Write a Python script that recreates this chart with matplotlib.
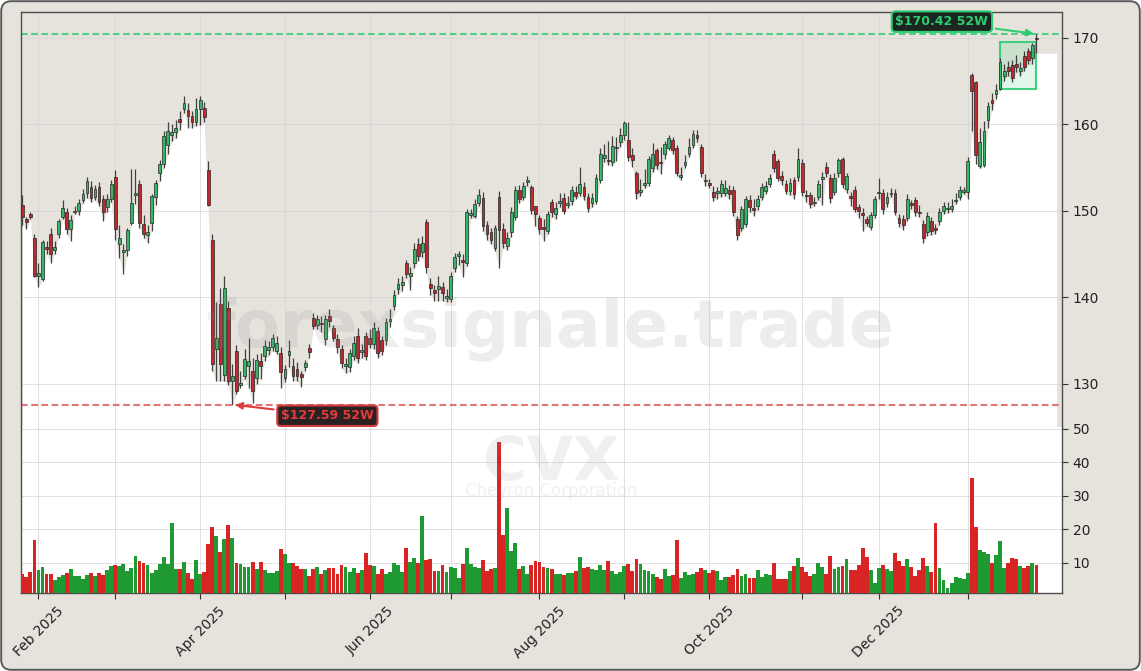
import matplotlib
matplotlib.use("Agg")
import matplotlib.pyplot as plt
import numpy as np
import pandas as pd
from matplotlib.patches import Rectangle, FancyBboxPatch

# ---------------- data ----------------
ticker = "CVX"
company = "Chevron Corporation"
watermark = "forexsignale.trade"
start_date, end_date = "2025-01-28", "2026-01-28"
holidays = ["2025-02-17", "2025-04-18", "2025-05-26", "2025-06-19", "2025-07-04",
            "2025-09-01", "2025-11-27", "2025-12-25", "2026-01-01", "2026-01-19"]

opens = [150.7, 149.0, 149.6, 146.9, 142.4, 142.1, 145.8, 147.3, 145.5, 147.3,
         149.3, 149.8, 147.9, 149.8, 150.0, 151.2, 152.1, 152.7, 151.6, 152.7,
         151.3, 150.4, 151.4, 153.9, 146.2, 145.2, 145.5, 148.6, 151.8, 153.1,
         148.5, 147.2, 148.6, 151.6, 154.3, 155.4, 157.6, 158.8, 159.1, 160.6,
         161.8, 161.6, 160.9, 160.3, 161.7, 161.9, 154.7, 146.6, 134.0, 139.2,
         131.0, 138.7, 130.3, 133.8, 129.9, 130.9, 132.0, 131.5, 130.7, 132.6,
         133.2, 133.9, 134.2, 133.8, 133.5, 130.7, 133.3, 132.1, 131.7, 131.1,
         131.9, 134.1, 137.6, 136.8, 137.0, 135.2, 137.8, 136.4, 135.2, 134.0,
         132.0, 131.9, 133.2, 135.5, 133.7, 135.5, 135.3, 134.6, 136.1, 135.0,
         135.0, 137.2, 139.0, 141.0, 141.4, 143.9, 142.5, 144.0, 146.2, 145.2,
         148.7, 141.5, 140.8, 140.9, 141.2, 139.9, 139.8, 143.4, 144.8, 144.3,
         144.0, 149.5, 149.4, 150.9, 151.5, 148.3, 147.5, 145.7, 151.6, 147.9,
         145.9, 147.5, 149.3, 152.4, 151.6, 153.3, 152.7, 150.5, 149.1, 148.1,
         147.7, 151.0, 149.6, 150.9, 151.5, 150.7, 151.1, 152.2, 152.0, 152.7,
         151.6, 150.9, 151.1, 153.6, 156.1, 155.8, 155.6, 157.2, 157.9, 158.7,
         158.2, 156.4, 154.3, 152.2, 153.0, 153.2, 154.9, 157.0, 155.6, 156.5,
         157.3, 158.2, 157.3, 153.9, 155.3, 156.6, 157.6, 158.7, 157.4, 153.4,
         153.2, 152.2, 152.1, 152.0, 152.1, 152.4, 152.4, 149.0, 148.0, 148.5,
         151.2, 150.3, 150.6, 151.6, 152.3, 153.1, 156.6, 155.7, 154.0, 153.1,
         152.3, 153.5, 153.9, 155.5, 151.8, 151.8, 150.9, 151.6, 153.7, 155.0,
         153.8, 152.2, 154.4, 156.0, 152.5, 151.6, 152.4, 150.4, 149.7, 149.0,
         148.1, 149.5, 152.0, 152.0, 150.9, 151.9, 152.0, 149.2, 149.0, 149.2,
         150.8, 151.2, 149.8, 148.5, 147.5, 148.8, 148.0, 148.8, 150.0, 150.2,
         150.2, 151.1, 151.6, 152.2, 152.2, 165.7, 164.9, 155.2, 155.3, 160.5,
         162.8, 163.5, 164.1, 165.6, 166.6, 166.8, 167.0, 166.2, 167.9, 168.4,
         167.7, 170.0]

highs = [151.8, 149.3, 149.8, 147.3, 144.0, 146.6, 146.5, 148.0, 146.5, 149.0,
         151.2, 150.3, 149.5, 150.6, 151.4, 152.5, 153.9, 153.4, 153.0, 153.3,
         151.8, 151.9, 153.6, 154.7, 148.3, 146.2, 148.0, 154.8, 154.8, 153.5,
         149.5, 148.3, 151.9, 153.6, 155.9, 159.2, 160.3, 160.0, 160.5, 161.5,
         163.3, 162.5, 161.5, 163.0, 163.3, 162.6, 155.8, 147.3, 139.4, 141.1,
         142.4, 139.6, 132.3, 134.5, 131.5, 134.0, 135.3, 133.0, 133.4, 133.6,
         135.0, 134.9, 135.8, 135.5, 134.2, 132.2, 135.0, 133.0, 132.5, 131.5,
         132.8, 134.6, 138.2, 138.0, 137.8, 138.0, 138.6, 136.8, 135.7, 134.5,
         133.0, 134.0, 135.5, 136.4, 134.6, 136.0, 136.3, 137.1, 136.5, 135.5,
         137.6, 138.6, 140.8, 142.2, 142.5, 144.3, 143.5, 146.3, 146.9, 147.1,
         149.0, 142.2, 141.4, 142.4, 141.8, 141.0, 142.9, 145.1, 145.3, 145.0,
         150.2, 150.2, 151.3, 152.5, 152.2, 148.8, 148.0, 148.4, 152.3, 148.6,
         147.5, 150.4, 152.8, 153.0, 153.3, 154.0, 153.0, 150.6, 149.5, 149.0,
         150.0, 151.3, 151.0, 152.0, 152.0, 151.7, 152.9, 152.8, 155.0, 153.3,
         152.0, 152.1, 154.2, 157.3, 157.7, 158.1, 158.6, 158.5, 159.5, 160.4,
         160.3, 157.3, 154.6, 153.7, 154.8, 156.3, 157.8, 157.3, 157.4, 158.0,
         158.7, 158.5, 157.6, 155.0, 156.4, 158.4, 159.3, 159.3, 157.7, 154.2,
         153.7, 152.8, 152.7, 153.5, 153.5, 153.0, 152.8, 149.4, 150.6, 151.7,
         151.8, 151.4, 151.8, 153.2, 153.4, 154.2, 157.0, 156.0, 154.6, 153.6,
         153.8, 153.9, 157.3, 156.0, 152.4, 152.2, 151.6, 153.6, 154.5, 155.6,
         154.2, 154.3, 156.1, 156.2, 154.4, 152.2, 152.8, 150.8, 150.3, 149.4,
         149.8, 151.7, 153.8, 152.5, 152.2, 152.6, 152.5, 149.6, 149.5, 151.9,
         151.2, 151.6, 150.7, 148.9, 149.9, 149.3, 148.5, 150.3, 151.0, 151.0,
         151.3, 152.0, 152.8, 152.7, 156.2, 165.9, 165.0, 159.6, 160.4, 162.6,
         163.6, 164.6, 167.6, 167.0, 167.3, 167.4, 168.0, 167.2, 168.4, 168.8,
         169.4, 170.42]

lows = [148.3, 147.9, 149.0, 142.3, 141.2, 141.9, 145.0, 143.9, 145.0, 146.9,
        149.0, 147.3, 146.5, 149.6, 149.5, 150.9, 151.5, 151.0, 151.2, 150.5,
        148.8, 149.9, 151.0, 146.6, 144.5, 142.7, 144.8, 148.4, 150.8, 148.0,
        146.8, 146.3, 147.7, 150.7, 153.4, 154.9, 156.5, 158.0, 158.4, 159.3,
        161.3, 159.6, 159.6, 159.8, 159.9, 160.2, 150.5, 131.5, 130.3, 130.3,
        130.3, 129.8, 127.59, 128.8, 129.5, 130.5, 129.5, 127.8, 130.0, 130.6,
        132.6, 133.3, 133.8, 133.4, 129.5, 130.2, 131.9, 130.3, 130.3, 129.6,
        131.5, 133.0, 136.3, 136.3, 136.0, 134.5, 136.6, 134.9, 133.6, 131.8,
        131.2, 131.4, 132.7, 132.4, 133.0, 132.8, 134.1, 134.0, 133.0, 133.3,
        134.5, 136.5, 138.5, 140.4, 140.7, 142.2, 140.8, 143.4, 144.2, 144.6,
        142.8, 140.2, 139.6, 139.6, 139.6, 139.5, 139.4, 142.9, 143.7, 142.3,
        143.6, 149.1, 149.1, 150.5, 147.6, 146.6, 146.1, 145.3, 143.4, 145.7,
        145.4, 147.0, 148.9, 150.9, 151.2, 152.9, 149.6, 148.2, 147.3, 146.5,
        147.3, 149.3, 149.0, 150.4, 149.6, 150.3, 150.7, 151.3, 151.7, 151.2,
        149.8, 150.4, 150.8, 153.2, 155.6, 155.3, 155.2, 155.8, 157.4, 158.2,
        155.8, 155.0, 151.3, 151.7, 152.6, 152.9, 154.5, 154.8, 154.2, 156.0,
        157.0, 156.5, 154.0, 153.5, 154.9, 156.2, 157.2, 157.9, 153.9, 152.9,
        152.6, 151.1, 151.4, 151.6, 151.7, 151.3, 149.4, 146.6, 147.6, 148.1,
        149.9, 149.4, 150.1, 151.2, 151.9, 152.7, 154.5, 153.4, 153.0, 151.9,
        151.8, 151.3, 153.4, 151.7, 151.0, 150.3, 150.5, 151.2, 150.7, 153.9,
        150.9, 151.8, 153.9, 152.6, 152.1, 150.6, 149.8, 149.2, 147.6, 148.2,
        147.8, 149.2, 151.4, 149.6, 150.4, 151.6, 149.5, 148.1, 147.8, 148.8,
        150.2, 149.4, 149.3, 146.3, 147.1, 147.2, 147.3, 148.4, 149.6, 149.7,
        149.9, 150.8, 151.2, 151.9, 151.4, 159.2, 155.4, 154.9, 155.1, 159.5,
        161.6, 162.9, 163.9, 165.0, 165.6, 164.9, 166.0, 165.6, 166.2, 166.9,
        166.9, 168.2]

closes = [149.3, 148.7, 149.3, 142.5, 142.8, 146.4, 145.6, 145.0, 145.8, 148.8,
          150.3, 147.9, 148.9, 150.0, 150.9, 151.9, 153.4, 151.5, 152.5, 151.0,
          149.8, 151.4, 153.1, 147.9, 146.9, 145.5, 147.8, 150.9, 152.1, 148.6,
          147.3, 147.5, 151.7, 153.2, 155.4, 158.6, 159.2, 159.1, 159.5, 160.3,
          162.4, 160.9, 160.2, 161.8, 162.8, 160.8, 150.7, 132.3, 135.3, 132.3,
          141.1, 130.3, 130.9, 129.2, 130.1, 132.9, 132.6, 129.2, 132.7, 132.1,
          134.4, 134.3, 135.3, 134.7, 131.3, 131.7, 133.8, 130.9, 130.9, 130.8,
          132.4, 133.7, 136.7, 137.5, 136.9, 137.5, 137.3, 135.3, 134.2, 132.4,
          132.3, 133.5, 134.7, 133.0, 133.9, 133.2, 134.6, 136.4, 133.6, 133.8,
          137.1, 137.5, 140.2, 141.5, 141.8, 142.7, 142.8, 145.6, 144.8, 146.3,
          143.5, 141.1, 140.5, 141.3, 140.5, 140.1, 142.5, 144.6, 145.0, 144.1,
          149.9, 149.7, 150.8, 151.8, 148.2, 147.3, 146.6, 148.0, 147.8, 146.3,
          146.8, 149.8, 152.4, 151.4, 152.8, 153.6, 150.1, 149.6, 147.9, 147.9,
          149.6, 149.8, 150.3, 151.1, 150.0, 150.9, 152.4, 151.7, 153.1, 151.7,
          150.3, 151.5, 153.8, 156.5, 156.4, 155.7, 157.5, 157.4, 158.8, 160.1,
          156.2, 155.9, 152.0, 152.4, 153.1, 156.0, 156.5, 155.3, 155.5, 157.7,
          158.4, 157.0, 154.4, 154.1, 155.6, 157.4, 158.9, 158.4, 154.3, 153.6,
          153.0, 151.6, 152.2, 153.1, 152.6, 151.9, 149.9, 147.2, 150.2, 151.3,
          150.4, 150.1, 151.4, 152.7, 152.9, 153.8, 154.9, 153.8, 153.5, 152.3,
          153.2, 151.9, 156.0, 152.2, 151.7, 150.8, 151.0, 153.1, 153.9, 154.4,
          151.5, 153.8, 155.9, 153.1, 154.0, 151.5, 150.2, 150.0, 149.5, 148.6,
          149.5, 151.3, 152.1, 150.2, 151.6, 152.1, 149.9, 148.6, 148.4, 151.4,
          150.7, 149.9, 149.7, 146.8, 149.4, 147.7, 147.8, 149.8, 150.5, 150.3,
          150.5, 151.2, 152.4, 152.3, 155.8, 163.8, 156.4, 157.9, 159.2, 162.1,
          162.5, 163.9, 167.2, 166.2, 166.2, 165.3, 166.6, 166.5, 166.6, 167.4,
          169.1, 169.8]

volumes_m = [6.6, 5.8, 7.3, 16.8, 7.8, 8.8, 6.6, 6.6, 4.8, 5.8,
             6.3, 7.0, 8.1, 6.1, 6.1, 5.1, 6.3, 7.0, 6.0, 6.8,
             6.3, 7.8, 9.0, 9.3, 9.0, 9.6, 7.5, 8.5, 12.0, 10.5,
             9.8, 9.3, 7.0, 7.8, 9.6, 11.8, 9.6, 21.8, 8.0, 8.0,
             10.1, 7.0, 5.1, 10.8, 6.6, 7.2, 15.6, 20.6, 18.0, 13.1,
             17.0, 21.2, 17.4, 9.8, 9.6, 8.8, 8.8, 10.1, 8.1, 10.1,
             7.8, 7.0, 7.0, 7.5, 14.1, 12.5, 9.8, 10.0, 9.0, 8.0,
             8.0, 6.0, 8.1, 8.8, 6.6, 7.8, 8.5, 8.3, 6.6, 9.3,
             8.8, 7.3, 8.3, 6.8, 7.8, 12.8, 9.3, 9.1, 6.6, 8.0,
             6.6, 7.3, 9.8, 9.3, 7.3, 14.5, 10.1, 11.5, 9.8, 24.0,
             10.8, 11.0, 7.5, 7.5, 9.3, 7.1, 8.8, 8.3, 5.5, 9.6,
             14.5, 9.6, 8.8, 8.5, 10.8, 7.6, 8.1, 8.5, 46.1, 18.3,
             26.4, 13.5, 15.8, 8.1, 9.1, 6.6, 9.3, 10.6, 10.1, 8.8,
             8.3, 8.1, 6.6, 6.6, 6.3, 7.0, 6.8, 7.5, 11.8, 8.5,
             8.8, 8.1, 7.8, 9.3, 7.8, 10.5, 7.5, 6.6, 7.3, 9.1,
             9.6, 7.5, 11.1, 9.6, 7.8, 7.5, 6.6, 5.8, 5.1, 8.1,
             6.1, 6.3, 16.8, 5.5, 7.1, 6.3, 6.6, 7.1, 8.3, 7.8,
             6.8, 7.8, 7.5, 4.8, 5.6, 5.6, 6.3, 8.1, 6.1, 6.6,
             5.3, 5.5, 7.8, 5.6, 6.6, 6.3, 9.8, 5.0, 5.0, 5.0,
             7.5, 9.0, 11.3, 8.8, 7.1, 6.1, 6.6, 9.8, 8.8, 6.6,
             12.0, 8.1, 8.8, 9.1, 11.0, 7.8, 7.8, 9.3, 14.3, 11.6,
             7.8, 4.0, 8.5, 9.3, 8.1, 7.5, 12.8, 10.5, 9.0, 11.0,
             8.6, 6.0, 7.8, 11.3, 9.0, 7.3, 21.8, 8.5, 4.8, 2.4,
             3.8, 5.6, 5.3, 5.1, 6.8, 35.2, 20.6, 13.8, 13.1, 12.5,
             9.8, 12.3, 16.5, 8.5, 9.8, 11.3, 11.0, 9.0, 8.5, 9.0,
             9.8, 9.3]

high_52w = 170.42
low_52w = 127.59
high_label = "$170.42 52W"
low_label = "$127.59 52W"
box_start, box_end = 242, 251
box_low, box_high = 164.1, 169.5
price_ylim = (125.0, 173.0)
price_ticks = [130, 140, 150, 160, 170]
vol_ylim = (0.87, 50.5)
vol_ticks = [10, 20, 30, 40, 50]

# ---------------- prep ----------------
o = np.array(opens); h = np.array(highs); l = np.array(lows); c = np.array(closes)
v = np.array(volumes_m)
n = len(c)
x = np.arange(n)
dates = pd.bdate_range(start_date, end_date)
dates = dates[~dates.isin(pd.to_datetime(holidays))][:n]
up = c >= o

BG = "#e6e3dd"
GREEN = "#2ecc71"

fig = plt.figure(figsize=(11.41, 6.71), dpi=100)
fig.patch.set_facecolor("white")
frame = FancyBboxPatch((0.012, 0.012), 11.41 - 0.024, 6.71 - 0.024,
                       boxstyle="round,pad=0,rounding_size=0.1",
                       transform=fig.dpi_scale_trans, fc=BG, ec="#5a5a5a", lw=1.4, zorder=-10)
fig.patches.append(frame)

axp = fig.add_axes([0.01867, 0.36364, 0.91236, 0.61893])
axv = fig.add_axes([0.01867, 0.11580, 0.91236, 0.24784], sharex=axp)
axp.set_facecolor(BG)
axv.set_facecolor("white")

# white area beneath the lows
xf = np.r_[x, x[-1] + 5.0]
lf = np.r_[l, l[-1]]
axp.fill_between(xf, lf, price_ylim[0] - 5, color="white", lw=0, zorder=0.8)

# candles
body_lo = np.minimum(o, c)
body_h = np.maximum(np.abs(c - o), 0.15)
ccol = np.where(up, "#35b566", "#c0282d")
axp.vlines(x, l, h, color="#404040", lw=0.9, zorder=3)
axp.bar(x, body_h, bottom=body_lo, width=0.7, color=ccol, edgecolor="#262626",
        linewidth=0.5, zorder=4)

# 52-week lines
axp.axhline(high_52w, color=GREEN, ls=(0, (3.2, 1.7)), lw=1.5, alpha=0.8, zorder=2.5)
axp.axhline(low_52w, color="#d95454", ls=(0, (3.2, 1.7)), lw=1.5, alpha=0.8, zorder=2.5)

# consolidation box
axp.add_patch(Rectangle((box_start, box_low), box_end - box_start, box_high - box_low,
                        fc=GREEN, alpha=0.15, ec="none", zorder=2.6))
axp.add_patch(Rectangle((box_start, box_low), box_end - box_start, box_high - box_low,
                        fc="none", ec=GREEN, lw=1.5, alpha=0.9, zorder=2.7))

# annotations
i_hi = int(np.argmax(h))
i_lo = int(np.argmin(l))
axp.annotate(high_label, xy=(i_hi, high_52w), xytext=(227.6, 171.85),
             ha="center", va="center", fontsize=9, fontweight="bold", color=GREEN,
             bbox=dict(boxstyle="round,pad=0.3", fc="#1b2620", ec=GREEN, lw=1.5),
             arrowprops=dict(arrowstyle="-|>", color=GREEN, lw=1.5, mutation_scale=10),
             zorder=10)
axp.annotate(low_label, xy=(i_lo, low_52w), xytext=(75.5, 126.3),
             ha="center", va="center", fontsize=9, fontweight="bold", color="#e03c3c",
             bbox=dict(boxstyle="round,pad=0.3", fc="#2a2222", ec="#d33a3a", lw=1.5),
             arrowprops=dict(arrowstyle="-|>", color="#e03c3c", lw=1.5, mutation_scale=10),
             zorder=10)

# volume
vcol = np.where(up, "#1f9a33", "#d92424")
axv.bar(x, v, width=0.95, color=vcol, zorder=3)

# axes styling
axp.set_ylim(*price_ylim)
axv.set_ylim(*vol_ylim)
axp.set_xlim(-0.25, 257.4)
axp.set_yticks(price_ticks)
axv.set_yticks(vol_ticks)

month_pos = [i for i in range(1, n) if dates[i].month != dates[i - 1].month]
month_lab = [dates[i].strftime("%b %Y") if dates[i].month % 2 == 0 else "" for i in month_pos]
axv.set_xticks(month_pos)
axv.set_xticklabels(month_lab, rotation=45, ha="center", fontsize=10, color="#222222")

for ax in (axp, axv):
    ax.yaxis.tick_right()
    ax.yaxis.set_label_position("right")
    ax.tick_params(axis="y", labelsize=10, labelcolor="#222222", color="#333333", length=4)
    ax.grid(True, color="#d4d4d4", lw=0.7, alpha=0.7)
    ax.set_axisbelow("line")
    for s in ax.spines.values():
        s.set_color("#4d4d4d")
        s.set_linewidth(1.0)
axp.tick_params(axis="x", bottom=False, labelbottom=False)
axv.tick_params(axis="x", color="#333333", length=4)
axp.spines["bottom"].set_visible(False)
axv.spines["top"].set_visible(False)

axp.set_ylabel("Price", color="#ebe8e3", fontsize=9, labelpad=14)
axv.set_ylabel("Volume\n(M)", color="#ebe8e3", fontsize=9, labelpad=14)

# watermarks
fig.text(0.483, 0.4829, watermark, fontsize=47.5, fontweight="bold", color="#8a8a8a",
         alpha=0.15, ha="center", va="baseline", zorder=1)
fig.text(0.483, 0.2850, ticker, fontsize=43, fontweight="bold", color="#8a8a8a",
         alpha=0.12, ha="center", va="baseline", zorder=1)
fig.text(0.483, 0.2610, company, fontsize=12, color="#8a8a8a",
         alpha=0.12, ha="center", va="baseline", zorder=1)

fig.savefig("out.png", dpi=100, facecolor=fig.get_facecolor())
